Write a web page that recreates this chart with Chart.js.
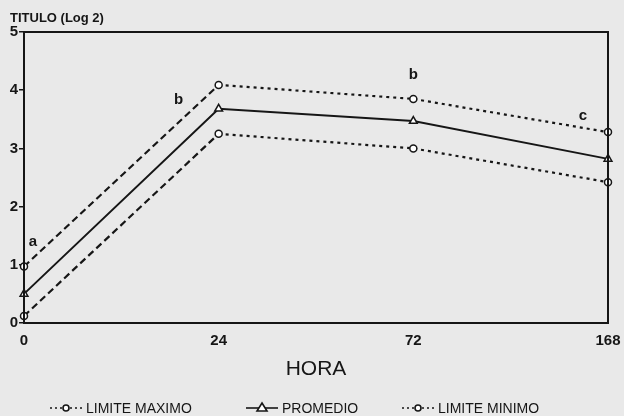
<!DOCTYPE html>
<html>
<head>
<meta charset="utf-8">
<script src="https://cdn.jsdelivr.net/npm/chart.js@4"></script>
<style>
  html, body { margin: 0; padding: 0; background: #e9e9e9; }
  #wrap { width: 624px; height: 416px; }
</style>
</head>
<body>
<div id="wrap"><canvas id="titerChart" width="624" height="416"></canvas></div>
<script>
const horas = ['0', '24', '72', '168'];
const limiteMaximo = [0.97, 4.09, 3.85, 3.28];
const promedio = [0.5, 3.68, 3.47, 2.82];
const limiteMinimo = [0.12, 3.25, 3.0, 2.42];
const letras = ['a', 'b', 'b', 'c'];
const yTicks = [0, 1, 2, 3, 4, 5];

const ink = '#161616';
const font = '"Liberation Sans", Arial, sans-serif';

// dashed on the first stretch, dotted afterwards
const limitSegment = {
    borderDash: c => c.p0DataIndex === 0 ? [7, 4] : [3, 4]
};

const extras = {
    id: 'extras',
    afterDraw(chart) {
        const c = chart.ctx;
        const a = chart.chartArea;
        const x = chart.scales.x;
        const y = chart.scales.y;
        c.save();
        c.strokeStyle = ink;
        c.lineWidth = 2;
        c.strokeRect(a.left, a.top, a.right - a.left, a.bottom - a.top);

        c.fillStyle = ink;
        c.font = 'bold 13px ' + font;
        c.textAlign = 'left';
        c.textBaseline = 'middle';
        c.fillText('TITULO (Log 2)', 10, 18);

        // significance letters next to the upper limit
        const offs = [[9, -25], [-40, 15], [0, -24], [-25, -16]];
        c.font = 'bold 15px ' + font;
        c.textAlign = 'center';
        letras.forEach((l, i) => {
            const px = x.getPixelForValue(i) + offs[i][0];
            const py = y.getPixelForValue(limiteMaximo[i]) + offs[i][1];
            c.fillText(l, px, py);
        });

        // legend
        const ly = 408;
        const items = [
            { x: 50, text: 'LIMITE MAXIMO', dash: [2, 3], style: 'circle' },
            { x: 246, text: 'PROMEDIO', dash: [], style: 'triangle' },
            { x: 402, text: 'LIMITE MINIMO', dash: [2, 3], style: 'circle' }
        ];
        c.font = '14px ' + font;
        c.textAlign = 'left';
        items.forEach(it => {
            c.lineWidth = 1.6;
            c.setLineDash(it.dash);
            c.beginPath();
            c.moveTo(it.x, ly);
            c.lineTo(it.x + 32, ly);
            c.stroke();
            c.setLineDash([]);
            c.fillStyle = '#ffffff';
            c.beginPath();
            if (it.style === 'circle') {
                c.arc(it.x + 16, ly, 3, 0, Math.PI * 2);
            } else {
                c.moveTo(it.x + 16, ly - 5);
                c.lineTo(it.x + 21, ly + 3);
                c.lineTo(it.x + 11, ly + 3);
                c.closePath();
            }
            c.fill();
            c.stroke();
            c.fillStyle = ink;
            c.fillText(it.text, it.x + 36, ly + 1);
        });
        c.restore();
    }
};

new Chart(document.getElementById('titerChart'), {
    type: 'line',
    data: {
        labels: horas,
        datasets: [
            {
                label: 'LIMITE MAXIMO',
                data: limiteMaximo,
                borderColor: ink,
                borderWidth: 2.2,
                segment: limitSegment,
                pointStyle: 'circle',
                pointRadius: 3.5,
                pointBackgroundColor: '#ffffff',
                pointBorderColor: ink,
                pointBorderWidth: 1.5,
                clip: false
            },
            {
                label: 'PROMEDIO',
                data: promedio,
                borderColor: ink,
                borderWidth: 2,
                pointStyle: 'triangle',
                pointRadius: 4.5,
                pointBackgroundColor: '#ffffff',
                pointBorderColor: ink,
                pointBorderWidth: 1.5,
                clip: false
            },
            {
                label: 'LIMITE MINIMO',
                data: limiteMinimo,
                borderColor: ink,
                borderWidth: 2.2,
                segment: limitSegment,
                pointStyle: 'circle',
                pointRadius: 3.5,
                pointBackgroundColor: '#ffffff',
                pointBorderColor: ink,
                pointBorderWidth: 1.5,
                clip: false
            }
        ]
    },
    options: {
        responsive: false,
        animation: false,
        layout: { padding: { left: 4, right: 16, top: 32, bottom: 30 } },
        plugins: {
            legend: { display: false },
            tooltip: { enabled: false }
        },
        scales: {
            x: {
                offset: false,
                grid: { display: false, drawTicks: false },
                border: { color: ink, width: 2 },
                ticks: { color: ink, font: { family: font, size: 15, weight: 'bold' }, padding: 9, maxRotation: 0 },
                title: { display: true, text: 'HORA', color: ink, font: { family: font, size: 21 }, padding: { top: 0, bottom: 4 } },
                afterFit: s => { s.height = 63; s.paddingLeft = 0; s.paddingRight = 0; }
            },
            y: {
                min: 0,
                max: 5,
                afterBuildTicks: s => { s.ticks = yTicks.map(v => ({ value: v })); },
                grid: { display: true, drawOnChartArea: false, tickLength: 5, color: ink, lineWidth: 1.5 },
                border: { color: ink, width: 2 },
                ticks: { color: ink, font: { family: font, size: 15, weight: 'bold' }, padding: 1 },
                afterFit: s => { s.width = 20; s.paddingTop = 0; s.paddingBottom = 0; }
            }
        }
    },
    plugins: [extras]
});
</script>
</body>
</html>
